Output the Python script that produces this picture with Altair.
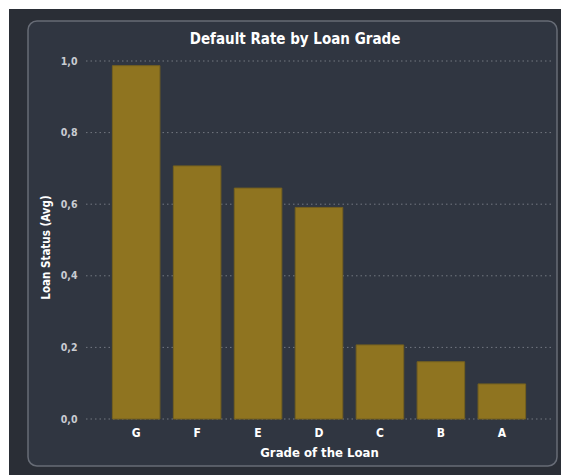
import altair as alt
import pandas as pd

grades = ["G", "F", "E", "D", "C", "B", "A"]
default_rate = [0.987, 0.707, 0.645, 0.591, 0.207, 0.160, 0.098]
y_ticks = [0.0, 0.2, 0.4, 0.6, 0.8, 1.0]

df = pd.DataFrame({"grade": grades, "rate": default_rate})
grid_df = pd.DataFrame({"rate": y_ticks})

FONT = "DejaVu Sans Condensed"
W, H = 466, 358
PL, PT = 86, 61
one = pd.DataFrame({"k": [0]})

# backdrop (outer dark area and rounded panel)
outer = alt.Chart(one).mark_rect(color="#2a2e36").encode(
    x=alt.value(9 - PL), x2=alt.value(561 - PL),
    y=alt.value(9 - PT), y2=alt.value(475 - PT),
)
panel = alt.Chart(one).mark_rect(
    fill="#303641", stroke="#676c76", strokeWidth=1.5, cornerRadius=9
).encode(
    x=alt.value(28 - PL), x2=alt.value(557 - PL),
    y=alt.value(21 - PT), y2=alt.value(466 - PT),
)

yscale = alt.Scale(domain=[0, 1], nice=False)
y_axis = alt.Axis(
    title="Loan Status (Avg)",
    zindex=1,
    values=y_ticks,
    labelExpr="replace(format(datum.value, '.1f'), '.', ',')",
    labelFont=FONT,
    labelFontSize=10.5,
    labelFontWeight="bold",
    labelColor="#c9ccd2",
    labelPadding=9,
    ticks=False,
    tickSize=0,
    domain=False,
    grid=False,
    titleFont=FONT,
    titleFontSize=11.5,
    titleFontWeight="bold",
    titleColor="#ffffff",
    titleX=-40,
    titleY=186,
    titleAngle=-90,
    titleAlign="center",
    titleBaseline="middle",
)

grid = alt.Chart(grid_df).mark_rule(
    color="#737881", strokeDash=[1.5, 3], strokeWidth=1
).encode(
    y=alt.Y("rate:Q", scale=yscale, axis=y_axis),
    x=alt.value(0),
    x2=alt.value(W),
)

bars = alt.Chart(df).mark_bar(
    color="#8f7420", stroke="#74601f", strokeWidth=1
).encode(
    x=alt.X(
        "grade:N",
        sort=grades,
        scale=alt.Scale(paddingInner=0.22, paddingOuter=0.433),
        axis=alt.Axis(
            title="Grade of the Loan",
            zindex=1,
            labelAngle=0,
            labelFont=FONT,
            labelFontSize=12,
            labelFontWeight="bold",
            labelColor="#ffffff",
            labelPadding=8,
            labelBaseline="top",
            ticks=False,
            tickSize=0,
            domain=False,
            grid=False,
            titleFont=FONT,
            titleFontSize=13,
            titleFontWeight="bold",
            titleColor="#ffffff",
            titleY=33,
            titleBaseline="middle",
        ),
    ),
    y=alt.Y("rate:Q", scale=yscale, axis=y_axis),
)

chart = alt.layer(outer, panel, grid, bars).properties(
    width=W,
    height=H,
    padding={"left": PL, "top": PT, "right": 561 - PL - W, "bottom": 475 - PT - H},
    autosize=alt.AutoSizeParams(type="none"),
    background="#ffffff",
    title=alt.Title(
        "Default Rate by Loan Grade",
        font=FONT,
        fontSize=15,
        fontWeight="bold",
        color="#ffffff",
        anchor="middle",
        frame="group",
        baseline="alphabetic",
        dx=-24,
        offset=-50,
    ),
).configure_view(stroke=None)

chart.save("out.html", embed_options={"renderer": "svg", "actions": False})
